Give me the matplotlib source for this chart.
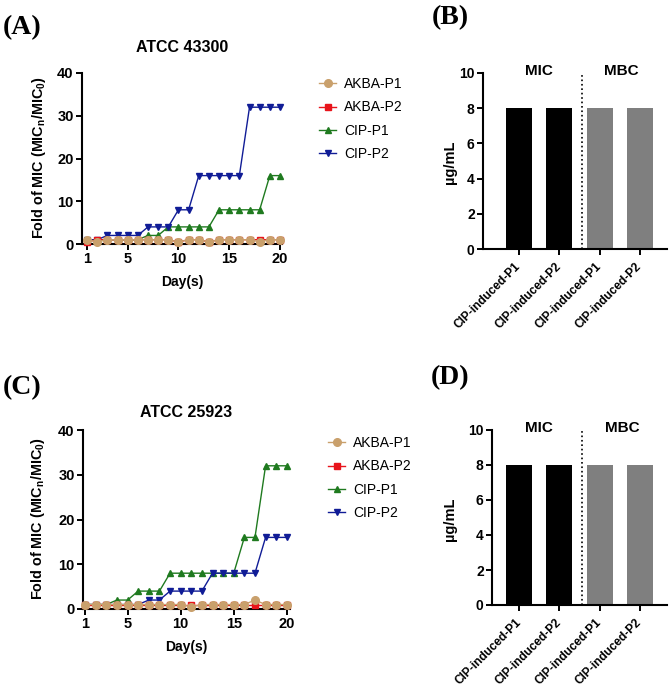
import matplotlib
matplotlib.use("Agg")
import matplotlib.pyplot as plt

plt.rcParams["font.family"] = ["Liberation Sans", "DejaVu Sans"]

days = list(range(1, 21))

# panel A: ATCC 43300
a_akba_p1 = [1, 0.5, 1, 1, 1, 1, 1, 1, 1, 0.5, 1, 1, 0.5, 1, 1, 1, 1, 0.5, 1, 1]
a_akba_p2 = [0.5, 1, 1, 1, 1, 1, 1, 1, 1, 0.5, 1, 1, 0.5, 1, 1, 1, 1, 1, 1, 1]
a_cip_p1 = [1, 1, 1, 1, 1, 1, 2, 2, 4, 4, 4, 4, 4, 8, 8, 8, 8, 8, 16, 16]
a_cip_p2 = [1, 1, 2, 2, 2, 2, 4, 4, 4, 8, 8, 16, 16, 16, 16, 16, 32, 32, 32, 32]

# panel C: ATCC 25923
c_akba_p1 = [1, 1, 1, 1, 1, 1, 1, 1, 1, 1, 0.5, 1, 1, 1, 1, 1, 2, 1, 1, 1]
c_akba_p2 = [1, 1, 1, 1, 1, 1, 1, 1, 1, 1, 1, 1, 1, 1, 1, 1, 1, 1, 1, 1]
c_cip_p1 = [1, 1, 1, 2, 2, 4, 4, 4, 8, 8, 8, 8, 8, 8, 8, 16, 16, 32, 32, 32]
c_cip_p2 = [1, 1, 1, 1, 1, 1, 2, 2, 4, 4, 4, 4, 8, 8, 8, 8, 8, 16, 16, 16]

series_names = ["AKBA-P1", "AKBA-P2", "CIP-P1", "CIP-P2"]

# panels B and D
bar_labels = ["CIP-induced-P1", "CIP-induced-P2", "CIP-induced-P1", "CIP-induced-P2"]
b_values = [8, 8, 8, 8]
d_values = [8, 8, 8, 8]

TAN = "#C9A06C"
RED = "#E8141B"
GREEN = "#1F7A1F"
NAVY = "#101C96"
W, H = 669, 696


def px_axes(fig, left, right, top, bottom):
    return fig.add_axes([left / W, 1 - bottom / H, (right - left) / W, (bottom - top) / H])


def style_axes(ax, size):
    for side in ("top", "right"):
        ax.spines[side].set_visible(False)
    for side in ("left", "bottom"):
        ax.spines[side].set_linewidth(1.5)
    ax.tick_params(width=1.4, length=4, labelsize=size, pad=2)
    for lab in ax.get_xticklabels() + ax.get_yticklabels():
        lab.set_fontweight("bold")


def line_panel(fig, box, p1, p2, c1, c2, title, title_pad, xlim, legend_xy, ylab_xy):
    ax = px_axes(fig, *box)
    kw = dict(lw=1.0, clip_on=False)
    ax.plot(days, c1, color=GREEN, marker="^", ms=5, label="CIP-P1", zorder=3, **kw)
    ax.plot(days, c2, color=NAVY, marker="v", ms=5, label="CIP-P2", zorder=3, **kw)
    ax.plot(days, p2, color=RED, marker="s", ms=4.5, label="AKBA-P2", zorder=4, **kw)
    ax.plot(days, p1, color=TAN, marker="o", ms=5.5, label="AKBA-P1", zorder=5, **kw)
    ax.set_xlim(*xlim)
    ax.set_ylim(0, 40)
    ax.set_xticks([1, 5, 10, 15, 20])
    ax.set_yticks([0, 10, 20, 30, 40])
    style_axes(ax, 10.5)
    ax.set_xlabel("Day(s)", fontsize=10, fontweight="bold", labelpad=6)
    ax.set_ylabel("Fold of MIC (MIC$_\\mathregular{n}$/MIC$_\\mathregular{0}$)",
                  fontsize=10.4, fontweight="bold")
    ax.yaxis.set_label_coords(ylab_xy[0] / W, 1 - ylab_xy[1] / H, transform=fig.transFigure)
    ax.set_title(title, fontsize=11.5, fontweight="bold", pad=title_pad)
    handles, labels = ax.get_legend_handles_labels()
    order = [labels.index(n) for n in series_names]
    ax.legend([handles[i] for i in order], series_names, loc="upper left",
              bbox_to_anchor=(legend_xy[0] / W, 1 - legend_xy[1] / H),
              bbox_transform=fig.transFigure, frameon=False, fontsize=10,
              handlelength=1.25, handletextpad=0.55, labelspacing=0.68,
              borderaxespad=0, borderpad=0)
    return ax


def bar_panel(fig, box, values, xlim, ylab_xy):
    ax = px_axes(fig, *box)
    pos = range(len(values))
    ax.bar(pos, values, width=0.65, color=["black", "black", "#7F7F7F", "#7F7F7F"])
    ax.set_xlim(*xlim)
    ax.set_ylim(0, 10)
    ax.set_yticks(range(0, 11, 2))
    ax.set_xticks(list(pos))
    ax.set_xticklabels(bar_labels, rotation=45, ha="right", va="center",
                       rotation_mode="anchor")
    style_axes(ax, 10)
    ax.tick_params(axis="x", labelsize=8.6, pad=7)
    ax.axvline(1.57, ymin=0, ymax=1.0, color="black", ls=":", lw=1.2)
    ax.text(0.5, 10.1, "MIC", ha="center", va="center", fontsize=11, fontweight="bold")
    ax.text(2.55, 10.1, "MBC", ha="center", va="center", fontsize=11, fontweight="bold")
    ax.set_ylabel("µg/mL", fontsize=10.5, fontweight="bold")
    ax.yaxis.set_label_coords(ylab_xy[0] / W, 1 - ylab_xy[1] / H, transform=fig.transFigure)
    return ax


fig = plt.figure(figsize=(W / 100, H / 100), dpi=100)

line_panel(fig, (82, 282, 73, 244), a_akba_p1, a_akba_p2, a_cip_p1, a_cip_p2,
           "ATCC 43300", 15, (0.5, 20.2), (319, 77), (48, 158))
line_panel(fig, (83, 290, 430, 609), c_akba_p1, c_akba_p2, c_cip_p1, c_cip_p2,
           "ATCC 25923", 9.5, (0.8, 20.3), (328, 436), (47, 519))
bar_panel(fig, (483, 667, 73, 249), b_values, (-0.89, 3.67), (457, 162))
bar_panel(fig, (492, 667, 430, 605), d_values, (-0.67, 3.67), (457, 519))

panel_font = dict(family=["Liberation Serif", "DejaVu Serif"], fontsize=20, fontweight="bold",
                  va="center", ha="center")
fig.text(22 / W, 1 - 28 / H, "(A)", **panel_font)
fig.text(450 / W, 1 - 18 / H, "(B)", **panel_font)
fig.text(22 / W, 1 - 388 / H, "(C)", **panel_font)
fig.text(450 / W, 1 - 378 / H, "(D)", **panel_font)

fig.savefig("out.png", dpi=100)
